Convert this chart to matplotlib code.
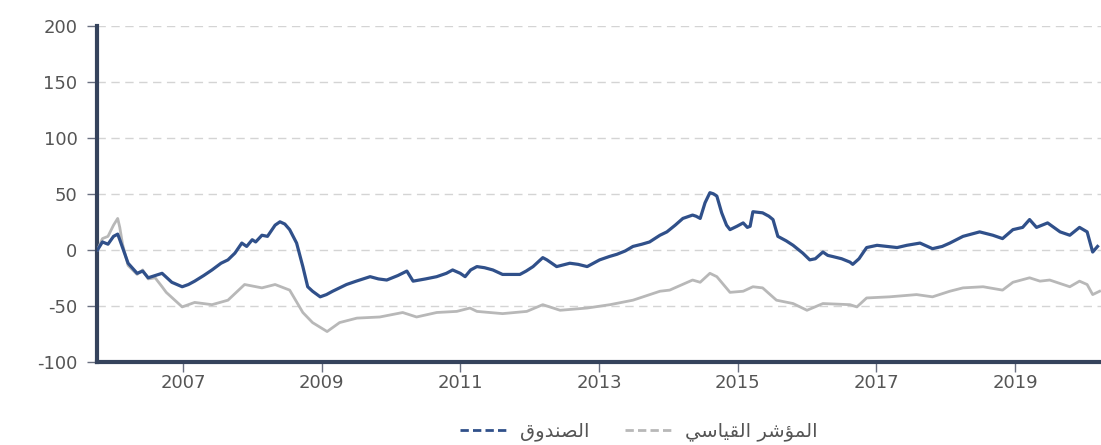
import matplotlib.pyplot as plt
from matplotlib.lines import Line2D

plt.rcParams['axes.unicode_minus'] = False

# fund (dark blue) - fractional years and cumulative return (%)
fund_years = [2005.77, 2005.84, 2005.92, 2006.00, 2006.06, 2006.09, 2006.13, 2006.21, 2006.34, 2006.42,
              2006.50, 2006.60, 2006.70, 2006.84, 2006.99, 2007.08, 2007.17, 2007.30, 2007.42, 2007.55,
              2007.65, 2007.75, 2007.85, 2007.92, 2008.00, 2008.05, 2008.14, 2008.22, 2008.33, 2008.40,
              2008.47, 2008.54, 2008.64, 2008.73, 2008.80, 2008.87, 2008.98, 2009.07, 2009.16, 2009.36,
              2009.50, 2009.70, 2009.82, 2009.94, 2010.10, 2010.23, 2010.32, 2010.50, 2010.66, 2010.80,
              2010.89, 2011.00, 2011.07, 2011.15, 2011.24, 2011.35, 2011.47, 2011.61, 2011.86, 2011.95,
              2012.05, 2012.19, 2012.25, 2012.39, 2012.58, 2012.70, 2012.83, 2013.01, 2013.15, 2013.26,
              2013.38, 2013.49, 2013.62, 2013.73, 2013.88, 2013.98, 2014.10, 2014.21, 2014.35, 2014.40,
              2014.46, 2014.53, 2014.60, 2014.65, 2014.70, 2014.77, 2014.84, 2014.89, 2014.99, 2015.08,
              2015.14, 2015.18, 2015.22, 2015.36, 2015.45, 2015.51, 2015.58, 2015.70, 2015.80, 2015.94,
              2016.04, 2016.12, 2016.23, 2016.30, 2016.37, 2016.50, 2016.62, 2016.66, 2016.75, 2016.86,
              2017.01, 2017.15, 2017.30, 2017.44, 2017.63, 2017.81, 2017.95, 2018.06, 2018.25, 2018.49,
              2018.68, 2018.82, 2018.97, 2019.11, 2019.21, 2019.31, 2019.47, 2019.65, 2019.79, 2019.93,
              2020.04, 2020.12, 2020.19]
fund_values = [0, 7, 5, 12, 14, 9, 2, -12, -21, -19,
               -25, -23, -21, -29, -33, -31, -28, -23, -18, -12,
               -9, -3, 6, 3, 9, 7, 13, 12, 22, 25,
               23, 18, 6, -15, -33, -37, -42, -40, -37, -31,
               -28, -24, -26, -27, -23, -19, -28, -26, -24, -21,
               -18, -21, -24, -18, -15, -16, -18, -22, -22, -19,
               -15, -7, -9, -15, -12, -13, -15, -9, -6, -4,
               -1, 3, 5, 7, 13, 16, 22, 28, 31, 30,
               28, 42, 51, 50, 48, 33, 22, 18, 21, 24,
               20, 21, 34, 33, 30, 27, 12, 8, 4, -3,
               -9, -8, -2, -5, -6, -8, -11, -13, -8, 2,
               4, 3, 2, 4, 6, 1, 3, 6, 12, 16,
               13, 10, 18, 20, 27, 20, 24, 16, 13, 20,
               16, -2, 3]

# benchmark (light grey)
bench_years = [2005.77, 2005.84, 2005.92, 2006.00, 2006.06, 2006.09, 2006.13, 2006.21, 2006.34, 2006.42,
               2006.50, 2006.60, 2006.70, 2006.76, 2006.99, 2007.17, 2007.42, 2007.65, 2007.89, 2008.14,
               2008.33, 2008.54, 2008.73, 2008.87, 2009.08, 2009.26, 2009.51, 2009.84, 2010.17, 2010.37,
               2010.66, 2010.95, 2011.14, 2011.24, 2011.61, 2011.96, 2012.19, 2012.44, 2012.83, 2013.16,
               2013.49, 2013.88, 2014.02, 2014.35, 2014.46, 2014.60, 2014.70, 2014.89, 2015.08, 2015.22,
               2015.36, 2015.56, 2015.80, 2016.00, 2016.23, 2016.62, 2016.72, 2016.86, 2017.19, 2017.58,
               2017.81, 2018.06, 2018.25, 2018.54, 2018.82, 2018.97, 2019.21, 2019.36, 2019.50, 2019.79,
               2019.93, 2020.04, 2020.12, 2020.22]
bench_values = [0, 10, 12, 22, 28, 20, 5, -14, -22, -18,
                -26, -25, -33, -38, -51, -47, -49, -45, -31, -34,
                -31, -36, -56, -65, -73, -65, -61, -60, -56, -60,
                -56, -55, -52, -55, -57, -55, -49, -54, -52, -49,
                -45, -37, -36, -27, -29, -21, -24, -38, -37, -33,
                -34, -45, -48, -54, -48, -49, -51, -43, -42, -40,
                -42, -37, -34, -33, -36, -29, -25, -28, -27, -33,
                -28, -31, -40, -37]

year_ticks = [2007, 2009, 2011, 2013, 2015, 2017, 2019]
value_ticks = [-100, -50, 0, 50, 100, 150, 200]

# Arabic labels in presentation forms, visual order
fund_label = '\uFED5\uFEED\uFEAA\uFEE8\uFEBC\uFEDF\uFE8D'
bench_label = '\uFEF2\uFEB3\uFE8E\uFEF4\uFED8\uFEDF\uFE8D \uFEAE\uFEB7\uFE86\uFEE4\uFEDF\uFE8D'

fund_color = '#30508a'
bench_color = '#b8b8b8'
spine_color = '#35435c'

fig = plt.figure(figsize=(11.01, 4.45), dpi=100)
ax = fig.add_axes([0.088, 0.187, 0.912, 0.755])

ax.plot(bench_years, bench_values, color=bench_color, lw=2.0, zorder=3)
ax.plot(fund_years, fund_values, color=fund_color, lw=2.3, zorder=4)

ax.set_xlim(2005.76, 2020.24)
ax.set_ylim(-100, 200)
ax.set_xticks(year_ticks)
ax.set_xticklabels([str(y) for y in year_ticks])
ax.set_yticks(value_ticks)

ax.grid(axis='y', color='#d4d4d4', ls=(0, (6, 4)), lw=1.0, zorder=1)
ax.grid(axis='x', visible=False)

for s in ['top', 'right']:
    ax.spines[s].set_visible(False)
for s in ['left', 'bottom']:
    ax.spines[s].set_color(spine_color)
    ax.spines[s].set_linewidth(3.0)

ax.tick_params(axis='both', colors='#6a7080', labelcolor='#555555', labelsize=13, length=7, width=1.0)
ax.tick_params(axis='x', pad=2)
ax.tick_params(axis='y', pad=7)

handles = [Line2D([], [], color=fund_color, lw=2, ls=(0, (3, 1.5))),
           Line2D([], [], color=bench_color, lw=2, ls=(0, (3, 1.5)))]
fig.legend(handles, [fund_label, bench_label], loc='center', bbox_to_anchor=(0.58, 0.03),
           ncol=2, frameon=False, handlelength=2.5, handletextpad=0.6, columnspacing=1.8,
           labelcolor='#555555', prop={'family': 'DejaVu Sans', 'size': 14})

fig.savefig('out.png', dpi=100)
